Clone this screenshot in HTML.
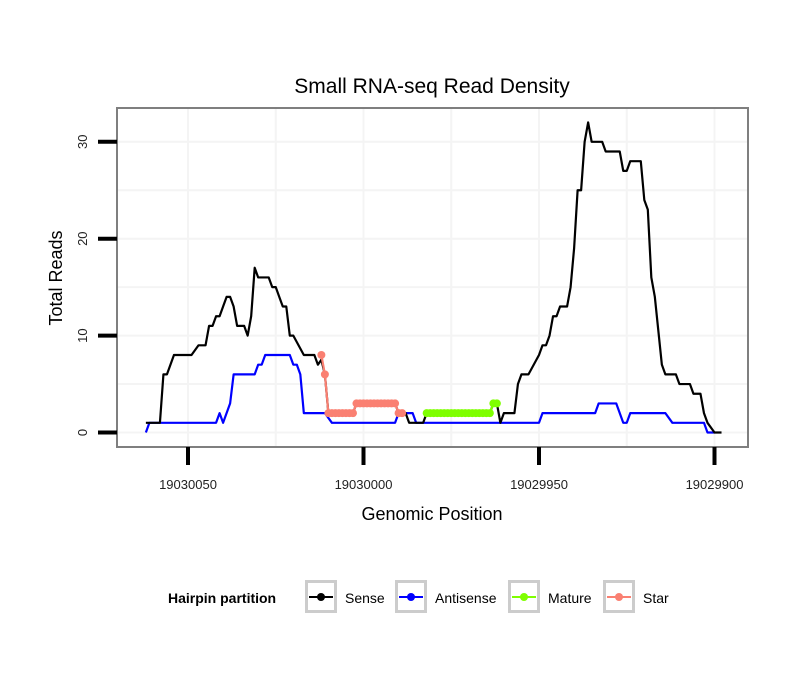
<!DOCTYPE html>
<html><head><meta charset="utf-8"><style>
html,body{margin:0;padding:0;background:#fff}
svg text{font-family:"Liberation Sans",Arial,sans-serif}
</style></head><body>
<svg id="chart" width="810" height="690" viewBox="0 0 810 690" xmlns="http://www.w3.org/2000/svg">
<text x="432" y="93" font-size="21" text-anchor="middle" fill="#000">Small RNA-seq Read Density</text>
<rect x="117" y="108" width="631" height="339" fill="#fff"/>
<g id="grid"></g>
<g id="series"></g>
<rect x="117" y="108" width="631" height="339" fill="none" stroke="#7f7f7f" stroke-width="2"/>
<g id="axes"></g>
<text x="432" y="520" font-size="18" text-anchor="middle">Genomic Position</text>
<text transform="translate(62,278) rotate(-90)" font-size="18" text-anchor="middle">Total Reads</text>
<g>
<text x="168" y="603" font-size="14" font-weight="bold">Hairpin partition</text>
<g id="legend-items"></g>
</g>
</svg>
<script>
const yTicks=[0,10,20,30];
const xTicks=[19030050,19030000,19029950,19029900];
const senseX=[19030062,19030058,19030057,19030056,19030054,19030049,19030047,19030045,19030044,19030043,19030042,19030041,19030040,19030039,19030038,19030037,19030036,19030034,19030033,19030032,19030031,19030030,19030027,19030026,19030025,19030024,19030023,19030022,19030021,19030020,19030017,19030014,19030013,19030012,19030011,19030010,19030003,19030002,19029991,19029990,19029988,19029987,19029983,19029982,19029964,19029963,19029962,19029961,19029960,19029957,19029956,19029955,19029953,19029950,19029949,19029948,19029947,19029946,19029945,19029944,19029942,19029941,19029940,19029939,19029938,19029937,19029936,19029935,19029932,19029931,19029927,19029926,19029925,19029924,19029921,19029920,19029919,19029918,19029917,19029915,19029914,19029911,19029910,19029907,19029906,19029904,19029903,19029902,19029900,19029898];
const senseY=[1,1,6,6,8,8,9,9,11,11,12,12,13,14,14,13,11,11,10,12,17,16,16,15,15,14,13,13,10,10,8,8,7,7.5,6,2,2,3,3,2,2,1,1,2,2,3,3,1,2,2,5,6,6,8,9,9,10,12,12,13,13,15,19,25,25,30,32,30,30,29,29,27,27,28,28,24,23,16,14,7,6,6,5,5,4,4,2,1,0,0];
const antiX=[19030062,19030061,19030042,19030041,19030040,19030038,19030037,19030031,19030030,19030029,19030028,19030021,19030020,19030019,19030018,19030017,19030011,19030009,19029991,19029990,19029986,19029985,19029950,19029949,19029934,19029933,19029928,19029926,19029925,19029924,19029914,19029912,19029903,19029902,19029900];
const antiY=[0,1,1,2,1,3,6,6,7,7,8,8,7,7,6,2,2,1,1,2,2,1,1,2,2,3,3,1,1,2,2,1,1,0,0];
const starX=[19030012,19030011,19030010,19030009,19030008,19030007,19030006,19030005,19030004,19030003,19030002,19030001,19030000,19029999,19029998,19029997,19029996,19029995,19029994,19029993,19029992,19029991,19029990,19029989];
const starY=[8,6,2,2,2,2,2,2,2,2,3,3,3,3,3,3,3,3,3,3,3,3,2,2];
const matureX=[19029982,19029981,19029980,19029979,19029978,19029977,19029976,19029975,19029974,19029973,19029972,19029971,19029970,19029969,19029968,19029967,19029966,19029965,19029964,19029963,19029962];
const matureY=[2,2,2,2,2,2,2,2,2,2,2,2,2,2,2,2,2,2,2,3,3];
const legendLabels=["Sense","Antisense","Mature","Star"];
const legendColors=["#000000","#0000ff","#7fff00","#fa8072"];

const NS="http://www.w3.org/2000/svg";
const X=g=>188+(19030050-g)*3.51;
const Y=v=>432.5-v*9.69;
function mk(tag,attrs,parent){const e=document.createElementNS(NS,tag);for(const k in attrs)e.setAttribute(k,attrs[k]);parent.appendChild(e);return e;}
const grid=document.getElementById('grid'),axes=document.getElementById('axes'),series=document.getElementById('series');
// grid
[5,15,25].concat(yTicks).forEach(v=>{const l=mk('line',{x1:117,x2:748,y1:Y(v),y2:Y(v),stroke:'#f4f4f4','stroke-width':2},grid);

});
[19030025,19029975,19029925].concat(xTicks).forEach(g=>{const l=mk('line',{x1:X(g),x2:X(g),y1:108,y2:447,stroke:'#f4f4f4','stroke-width':2},grid);

});
// ticks
yTicks.forEach(v=>{const t=mk('line',{x1:98,x2:117,y1:Y(v),y2:Y(v),stroke:'#000','stroke-width':4},axes);


const tx=mk('text',{transform:`translate(${87},${Y(v)}) rotate(-90)`,'font-size':13,'text-anchor':'middle',fill:'#222'},axes);tx.textContent=v;

});
xTicks.forEach(g=>{const t=mk('line',{x1:X(g),x2:X(g),y1:447,y2:465,stroke:'#000','stroke-width':4},axes);


const tx=mk('text',{x:X(g),y:489,'font-size':13,'text-anchor':'middle',fill:'#222'},axes);tx.textContent=g;

});
// lines
function line(xs,ys,col,name){const p=mk('polyline',{points:xs.map((g,i)=>X(g)+','+Y(ys[i])).join(' '),fill:'none',stroke:col,'stroke-width':2.2,'stroke-linejoin':'round'},series);

}
function pts(xs,ys,col,name){xs.forEach((g,i)=>{const c=mk('circle',{cx:X(g),cy:Y(ys[i]),r:4,fill:col},series);

});}
line(antiX,antiY,'#0000ff','antisense-line');
line(senseX,senseY,'#000','sense-line');
line(starX,starY,'#fa8072','star-line');
pts(starX,starY,'#fa8072','star-point');
line(matureX,matureY,'#7fff00','mature-line');
pts(matureX,matureY,'#7fff00','mature-point');
// legend
const lg=document.getElementById('legend-items');
const boxX=[305,395,508,603];
legendLabels.forEach((lab,i)=>{const bx=boxX[i];
const r=mk('rect',{x:bx+1.5,y:581.5,width:29,height:30,fill:'#fff',stroke:'#cccccc','stroke-width':3},lg);


mk('line',{x1:bx+4,x2:bx+28,y1:597,y2:597,stroke:legendColors[i],'stroke-width':2},lg);
mk('circle',{cx:bx+16,cy:597,r:4,fill:legendColors[i]},lg);
const t=mk('text',{x:bx+40,y:603,'font-size':14,fill:'#000'},lg);t.textContent=lab;

});
</script>
</body></html>
